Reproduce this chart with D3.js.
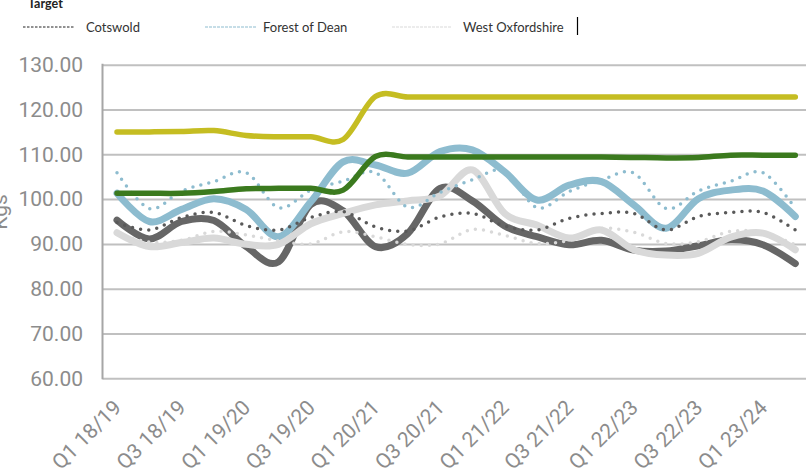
<!DOCTYPE html>
<html>
<head>
<meta charset="utf-8">
<script src="https://cdn.jsdelivr.net/npm/d3@7/dist/d3.min.js"></script>
<style>
  html, body { margin: 0; padding: 0; background: #fff; }
  svg { display: block; }
</style>
</head>
<body>
<svg id="chart" width="806" height="473"></svg>
<script>
// Quarterly residual waste per household (kg), Q1 2018/19 – Q2 2023/24
const quarters = [
  "Q1 18/19", "Q2 18/19", "Q3 18/19", "Q4 18/19",
  "Q1 19/20", "Q2 19/20", "Q3 19/20", "Q4 19/20",
  "Q1 20/21", "Q2 20/21", "Q3 20/21", "Q4 20/21",
  "Q1 21/22", "Q2 21/22", "Q3 21/22", "Q4 21/22",
  "Q1 22/23", "Q2 22/23", "Q3 22/23", "Q4 22/23",
  "Q1 23/24", "Q2 23/24"
];
const tickQuarters = [
  "Q1 18/19", "Q3 18/19", "Q1 19/20", "Q3 19/20", "Q1 20/21", "Q3 20/21",
  "Q1 21/22", "Q3 21/22", "Q1 22/23", "Q3 22/23", "Q1 23/24"
];
const yTicks = [60, 70, 80, 90, 100, 110, 120, 130];

// Benchmark lines
const benchmarkA = [115.0, 115.0, 115.1, 115.3, 114.2, 113.9, 113.9, 113.3, 122.9, 122.8, 122.8,
                    122.8, 122.8, 122.8, 122.8, 122.8, 122.8, 122.8, 122.8, 122.8, 122.8, 122.8];
const benchmarkB = [101.3, 101.3, 101.3, 101.7, 102.3, 102.4, 102.4, 102.0, 109.5, 109.4, 109.4,
                    109.4, 109.4, 109.4, 109.4, 109.4, 109.3, 109.2, 109.3, 109.8, 109.8, 109.8];

// Actuals per district
const cotswold = [95.3, 91.1, 95.0, 95.2, 89.4, 86.0, 98.8, 97.4, 89.4, 92.3, 102.4,
                  99.6, 94.0, 91.6, 89.8, 90.8, 88.6, 88.4, 89.6, 90.9, 89.8, 85.6];
const forestOfDean = [101.3, 95.0, 97.7, 100.1, 97.7, 91.6, 99.4, 108.3, 107.6, 105.8, 110.6,
                      111.0, 106.1, 99.8, 103.1, 103.9, 98.7, 93.5, 100.1, 102.0, 101.8, 96.1];
const westOxfordshire = [92.5, 89.4, 90.3, 91.3, 89.9, 89.9, 94.5, 96.8, 98.7, 99.6, 100.7,
                         106.5, 96.8, 94.2, 91.3, 93.1, 88.7, 87.5, 87.9, 91.5, 92.4, 88.7];

// Targets per district (dotted)
const cotswoldTarget = [94.8, 93.1, 95.9, 97.0, 94.1, 93.1, 95.9, 97.2, 93.8, 92.9, 96.0,
                        96.8, 94.0, 93.1, 95.7, 96.8, 96.8, 93.1, 96.1, 97.0, 97.0, 93.1];
const forestOfDeanTarget = [105.9, 97.9, 101.8, 103.9, 105.9, 98.1, 102.0, 104.0, 105.9, 98.2, 101.5,
                            104.3, 106.3, 98.1, 101.7, 104.3, 105.8, 97.9, 101.8, 104.0, 105.9, 97.9];
const westOxfordshireTarget = [92.3, 90.4, 90.8, 92.8, 92.0, 90.7, 90.0, 92.7, 91.6, 89.9, 90.0,
                               93.2, 91.9, 90.1, 90.8, 93.4, 92.6, 90.1, 90.5, 92.8, 92.5, 89.8];

const svg = d3.select("#chart");
const W = 806;
const plotLeft = 102.5, plotTop = 64.7, plotBottom = 378.3;

const x = d3.scalePoint().domain(quarters).range([117, 795.3]);
const y = d3.scaleLinear().domain([60, 130]).range([plotBottom, plotTop]);

// Gridlines
svg.append("g")
  .attr("transform", `translate(${plotLeft},0)`)
  .call(d3.axisLeft(y).tickValues(yTicks).tickSize(-(W - plotLeft)).tickFormat(""))
  .call(g => g.select(".domain").remove())
  .call(g => g.selectAll("line").attr("stroke", "#c0c0c0").attr("stroke-width", 2));

// Vertical axis line
svg.append("line")
  .attr("x1", plotLeft).attr("x2", plotLeft)
  .attr("y1", y(130) - 1).attr("y2", y(60) + 1)
  .attr("stroke", "#a6a6a6").attr("stroke-width", 2);

// Y tick labels
svg.append("g")
  .attr("transform", "translate(83,0)")
  .call(d3.axisLeft(y).tickValues(yTicks).tickSize(0).tickPadding(0).tickFormat(d3.format(".2f")))
  .call(g => g.select(".domain").remove())
  .call(g => g.selectAll("text")
    .attr("fill", "#8c8c8c")
    .style("font-family", "Roboto, 'Noto Sans', sans-serif")
    .style("font-size", "21px"));

// Y axis title (sits partly beyond the left edge)
svg.append("text")
  .attr("transform", "translate(7,212) rotate(-90)")
  .attr("text-anchor", "middle")
  .attr("fill", "#8c8c8c")
  .style("font-family", "Roboto, 'Noto Sans', sans-serif")
  .style("font-size", "21px")
  .text("Kgs");

// X tick labels, rotated
svg.append("g")
  .attr("transform", "translate(0,409)")
  .call(d3.axisBottom(x).tickValues(tickQuarters).tickSize(0).tickPadding(0))
  .call(g => g.select(".domain").remove())
  .call(g => g.selectAll("text")
    .attr("fill", "#8c8c8c")
    .attr("dy", 0)
    .attr("text-anchor", "end")
    .attr("transform", "translate(5,0) rotate(-45)")
    .style("font-family", "Roboto, 'Noto Sans', sans-serif")
    .style("font-size", "21px"));

const line = d3.line()
  .x((d, i) => x(quarters[i]))
  .y(d => y(d))
  .curve(d3.curveCardinal.tension(0));

const series = [
  { values: cotswold, color: "#666666", width: 7, dotted: false },
  { values: forestOfDean, color: "#8dbccf", width: 7, dotted: false },
  { values: westOxfordshire, color: "#d9d9d9", width: 7, dotted: false },
  { values: cotswoldTarget, color: "#595959", width: 3.5, dotted: true },
  { values: forestOfDeanTarget, color: "#8dbccf", width: 3.5, dotted: true },
  { values: westOxfordshireTarget, color: "#d9d9d9", width: 3.5, dotted: true },
  { values: benchmarkA, color: "#c5bd22", width: 5.5, dotted: false },
  { values: benchmarkB, color: "#3b7a1e", width: 5.5, dotted: false }
];

svg.append("g")
  .selectAll("path")
  .data(series)
  .join("path")
  .attr("d", d => line(d.values))
  .attr("fill", "none")
  .attr("stroke", d => d.color)
  .attr("stroke-width", d => d.width)
  .attr("stroke-linecap", "round")
  .attr("stroke-linejoin", "round")
  .attr("stroke-dasharray", d => d.dotted ? "0 8.2" : null);

// Legend
svg.append("text")
  .attr("x", 28).attr("y", 8)
  .attr("fill", "#222")
  .style("font-family", "Lato, 'Open Sans', sans-serif")
  .style("font-size", "12.5px")
  .style("font-weight", "bold")
  .text("Target");

const legendItems = [
  { label: "Cotswold", color: "#222", dash: "2.5 1.5", x1: 23, x2: 75, tx: 86 },
  { label: "Forest of Dean", color: "#8dbccf", dash: "3 1", x1: 205, x2: 257, tx: 263 },
  { label: "West Oxfordshire", color: "#d9d9d9", dash: "3 1", x1: 392, x2: 451, tx: 463 }
];
const lg = svg.append("g");
lg.selectAll("line")
  .data(legendItems)
  .join("line")
  .attr("x1", d => d.x1).attr("x2", d => d.x2)
  .attr("y1", 27).attr("y2", 27)
  .attr("stroke", d => d.color)
  .attr("stroke-width", 1)
  .attr("stroke-dasharray", d => d.dash);
lg.selectAll("text")
  .data(legendItems)
  .join("text")
  .attr("x", d => d.tx).attr("y", 31.5)
  .attr("fill", "#333")
  .style("font-family", "Lato, 'Open Sans', sans-serif")
  .style("font-size", "13px")
  .text(d => d.label);

// Text cursor after the last legend entry
svg.append("line")
  .attr("x1", 577.5).attr("x2", 577.5)
  .attr("y1", 17).attr("y2", 35)
  .attr("stroke", "#000").attr("stroke-width", 1.2);
</script>
</body>
</html>
